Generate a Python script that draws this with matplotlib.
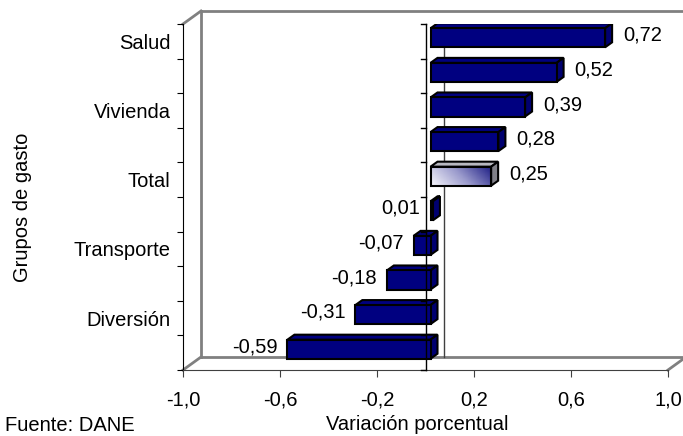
import matplotlib.pyplot as plt
import numpy as np
from matplotlib.colors import LinearSegmentedColormap
from matplotlib.patches import Polygon, Rectangle

plt.rcParams['font.family'] = ['Liberation Sans', 'DejaVu Sans']
FS = 14.5

# data, top to bottom
categorias = ['Salud', '', 'Vivienda', '', 'Total', '', 'Transporte', '', 'Diversión', '']
valores = [0.72, 0.52, 0.39, 0.28, 0.25, 0.01, -0.07, -0.18, -0.31, -0.59]
etiquetas = ['0,72', '0,52', '0,39', '0,28', '0,25', '0,01', '-0,07', '-0,18', '-0,31', '-0,59']
total_idx = 4
xticks = [-1.0, -0.6, -0.2, 0.2, 0.6, 1.0]
xticklabels = ['-1,0', '-0,6', '-0,2', '0,2', '0,6', '1,0']

W, H = 683, 436
fig = plt.figure(figsize=(W / 100, H / 100), dpi=100)
ax = fig.add_axes([183 / W, 66 / H, 485 / W, 346 / H])
n = len(valores)
ax.set_xlim(-1, 1)
ax.set_ylim(n, 0)
ax.set_facecolor('none')

# pixel -> data helpers
SX = 485 / 2.0
SY = 346 / n
def px(dx):
    return dx / SX
def py(dy):  # positive = down
    return dy / SY

DX, DY = 18, -13  # wall depth in px
wall = dict(color='#808080', lw=2, clip_on=False, zorder=1)
bx, by = px(DX), py(DY)
# back wall
ax.plot([-1 + bx, 1 + bx + 0.2], [0 + by, 0 + by], **wall)
ax.plot([-1 + bx, -1 + bx], [0 + by, n + by], **wall)
ax.plot([-1 + bx, 1 + bx], [n + by, n + by], **wall)
ax.plot([0 + bx, 0 + bx], [0 + by, n + by], color='#404040', lw=1, zorder=1)
# side / floor diagonals
ax.plot([-1, -1 + bx], [0, 0 + by], **wall)
ax.plot([-1, -1 + bx], [n, n + by], **wall)
ax.plot([1, 1 + bx], [n, n + by], **wall)

# bars
h = 0.55
ox, oy = px(5), py(-3.5)
ddx, ddy = px(7), py(-5)
navy = '#000080'
grad_cmap = LinearSegmentedColormap.from_list('g', ['#f6f6fb', '#9a9acc', '#1c1c84'])
for i, v in enumerate(valores):
    c = i + 0.5
    x0 = min(0, v) + ox
    x1 = max(0, v) + ox
    yt = c - h / 2 + oy
    yb = c + h / 2 + oy
    top = [(x0, yt), (x1, yt), (x1 + ddx, yt + ddy), (x0 + ddx, yt + ddy)]
    side = [(x1, yt), (x1 + ddx, yt + ddy), (x1 + ddx, yb + ddy), (x1, yb)]
    if i == total_idx:
        ax.add_patch(Polygon(top, closed=True, fc='#b8b8c0', ec='black', lw=1.5, zorder=3))
        ax.add_patch(Polygon(side, closed=True, fc='#808088', ec='black', lw=1.5, zorder=3))
        gx = np.linspace(0, 1, 100)
        gy = np.linspace(0.25, 0, 20)
        grad = gx[None, :] * 0.8 + gy[:, None]
        ax.imshow(grad, extent=[x0, x1, yb, yt], origin='upper', cmap=grad_cmap,
                  vmin=0, vmax=1.05, aspect='auto', zorder=3, interpolation='bilinear')
        ax.add_patch(Rectangle((x0, yt), x1 - x0, yb - yt, fc='none', ec='black', lw=1.5, zorder=3.5))
    else:
        ax.add_patch(Polygon(top, closed=True, fc=navy, ec='black', lw=1.5, zorder=3))
        ax.add_patch(Polygon(side, closed=True, fc='#000070', ec='black', lw=1.5, zorder=3))
        ax.add_patch(Rectangle((x0, yt), x1 - x0, yb - yt, fc=navy, ec='black', lw=1.5, zorder=3))
    ly = c + py(-6)
    if v > 0.05:
        ax.text(v + px(23), ly, etiquetas[i], ha='left', va='center', fontsize=FS, zorder=5)
    else:
        ax.text(x0 - px(10), ly, etiquetas[i], ha='right', va='center', fontsize=FS, zorder=5)

ax.set_xlim(-1, 1)
ax.set_ylim(n, 0)

# zero axis with ticks on front plane
ax.plot([0, 0], [0, n], color='black', lw=1, zorder=4, clip_on=False)
for k in range(n + 1):
    ax.plot([0 - px(5), 0], [k, k], color='black', lw=1, zorder=4, clip_on=False)

# axes
for s in ['top', 'right']:
    ax.spines[s].set_visible(False)
ax.spines['left'].set_color('black')
ax.spines['bottom'].set_color('#404040')
ax.set_xticks(xticks)
ax.set_xticklabels(xticklabels, fontsize=FS)
ax.tick_params(axis='x', length=5, pad=10, color='#404040')
ax.set_yticks(np.arange(n + 1))
ax.set_yticklabels([])
ax.tick_params(axis='y', which='major', length=4, color='black')
ax.set_yticks(np.arange(n) + 0.5, minor=True)
ax.set_yticklabels(categorias, minor=True, fontsize=FS)
ax.tick_params(axis='y', which='minor', length=0, pad=9)

fig.text(417 / W, 2 / H, 'Variación porcentual', ha='center', va='bottom', fontsize=FS)
fig.text(23 / W, 1 - 207 / H, 'Grupos de gasto', ha='center', va='center', rotation=90, fontsize=FS)
fig.text(5 / W, 1 / H, 'Fuente: DANE', ha='left', va='bottom', fontsize=FS)

fig.savefig('out.png', dpi=100)
